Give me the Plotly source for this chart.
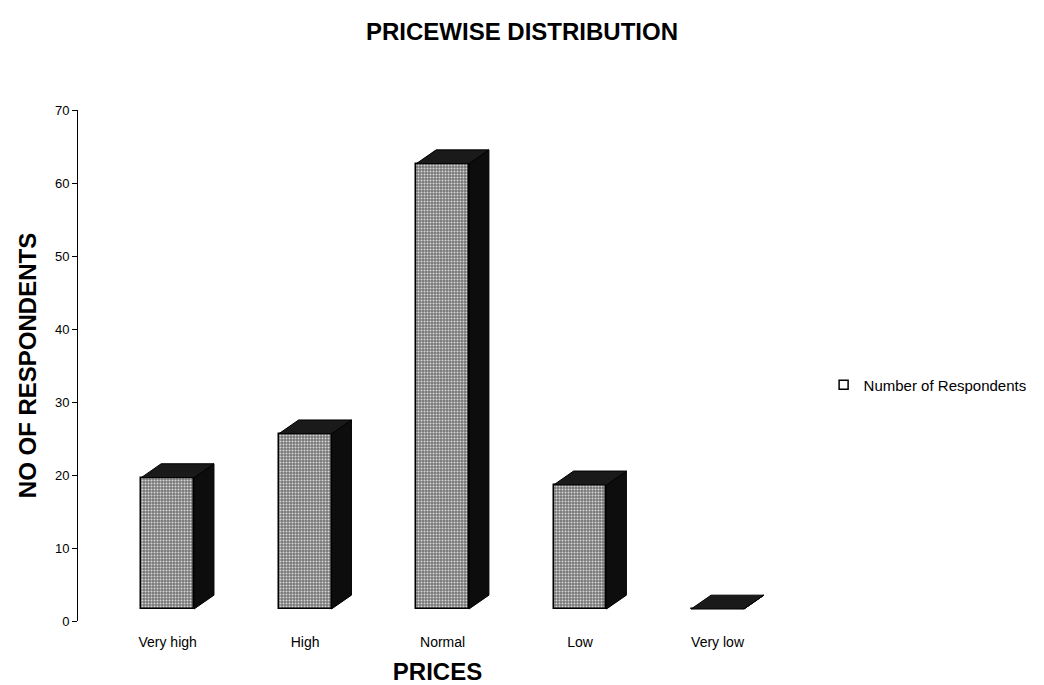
import plotly.graph_objects as go

# ---- data ----
categories = ["Very high", "High", "Normal", "Low", "Very low"]
respondents = [18, 24, 61, 17, 0]
series_name = "Number of Respondents"
y_ticks = [0, 10, 20, 30, 40, 50, 60, 70]

# ---- 3D-look style constants (in axis units) ----
BAR_W = 0.384     # front-face width
DEPTH_X = 0.145   # oblique depth, horizontal
DEPTH_Y = 1.9     # oblique depth, vertical
FLOOR = 1.64      # front faces sit slightly back on the floor

xs = list(range(len(categories)))

side_x, side_y, top_x, top_y = [], [], [], []
for x, v in zip(xs, respondents):
    l, r = x - BAR_W / 2, x + BAR_W / 2
    b, t = FLOOR, FLOOR + v
    # right side face
    side_x += [r, r + DEPTH_X, r + DEPTH_X, r, r, None]
    side_y += [b, b + DEPTH_Y, t + DEPTH_Y, t, b, None]
    # top face
    top_x += [l, l + DEPTH_X, r + DEPTH_X, r, l, None]
    top_y += [t, t + DEPTH_Y, t + DEPTH_Y, t, t, None]

fig = go.Figure()

fig.add_trace(go.Bar(
    x=xs, y=respondents, base=FLOOR, width=BAR_W,
    marker=dict(
        color="#7a7a7a",
        line=dict(color="black", width=1.5),
        pattern=dict(shape=".", bgcolor="#767676", fgcolor="#d8d8d8",
                     size=3, solidity=0.35, fillmode="replace"),
    ),
    showlegend=False, hoverinfo="skip",
))

fig.add_trace(go.Scatter(
    x=side_x, y=side_y, mode="lines", fill="toself",
    fillcolor="#0d0d0d", line=dict(color="black", width=1),
    showlegend=False, hoverinfo="skip",
))
fig.add_trace(go.Scatter(
    x=top_x, y=top_y, mode="lines", fill="toself",
    fillcolor="#1a1a1a", line=dict(color="black", width=1),
    showlegend=False, hoverinfo="skip",
))

# legend-only entry
fig.add_trace(go.Scatter(
    x=[None], y=[None], mode="markers", name=series_name,
    marker=dict(symbol="square-open", size=9, color="black",
                line=dict(width=1.5, color="black")),
))

FONT = "Liberation Sans, Arial, sans-serif"

fig.update_layout(
    width=1044, height=685,
    margin=dict(l=78, r=244, t=110, b=64),
    paper_bgcolor="white", plot_bgcolor="white",
    font=dict(family=FONT, color="black", size=13),
    title=dict(text="<b>PRICEWISE DISTRIBUTION</b>", x=0.5, xanchor="center",
               y=1 - 32 / 685, yanchor="middle",
               font=dict(size=24, family=FONT, color="black")),
    legend=dict(x=1.037, xanchor="left", y=0.462, yanchor="middle",
                font=dict(size=15, family=FONT, color="black"),
                bgcolor="rgba(0,0,0,0)", itemwidth=30),
    showlegend=True,
    bargap=0,
)

fig.update_xaxes(
    range=[-0.652, 4.578], tickvals=xs, ticktext=categories,
    showgrid=False, zeroline=False, showline=False, ticks="",
    tickfont=dict(size=14, family=FONT, color="black"),
    ticklabelstandoff=11,
    title=dict(text="<b>PRICES</b>", standoff=19,
               font=dict(size=24, family=FONT, color="black")),
    fixedrange=True, automargin=False,
)
fig.update_yaxes(
    range=[0, 70], tickvals=y_ticks,
    showgrid=False, zeroline=False, showline=True,
    linecolor="black", linewidth=1,
    ticks="outside", ticklen=5, tickcolor="black", tickwidth=1,
    tickfont=dict(size=13, family=FONT, color="black"),
    title=dict(text="<b>NO OF RESPONDENTS</b>", standoff=11,
               font=dict(size=24, family=FONT, color="black")),
    automargin=False,
    fixedrange=True,
)

fig.write_html("out.html")
